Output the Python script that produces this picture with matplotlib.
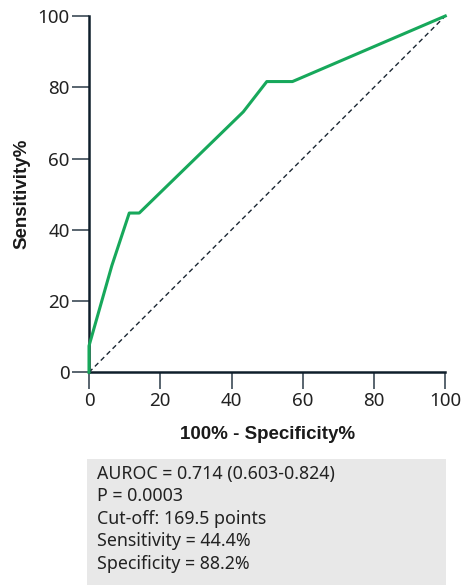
import matplotlib.pyplot as plt
from matplotlib.patches import Rectangle

# ROC curve points (100% - specificity, sensitivity)
fpr = [0, 0, 6.4, 11.3, 14.1, 43.3, 49.9, 57.1, 100]
tpr = [0, 7.4, 29.9, 44.7, 44.7, 73.1, 81.6, 81.6, 100]
ref_line = [0, 100]
ticks = [0, 20, 40, 60, 80, 100]
stats_lines = [
    "AUROC = 0.714 (0.603-0.824)",
    "P = 0.0003",
    "Cut-off: 169.5 points",
    "Sensitivity = 44.4%",
    "Specificity = 88.2%",
]

plt.rcParams['font.family'] = ['Noto Sans', 'DejaVu Sans']

W, H = 463, 585
fig = plt.figure(figsize=(W / 100, H / 100), dpi=100)
ax = fig.add_axes([89 / W, 1 - 372.3 / H, (445.3 - 89) / W, (372.3 - 16) / H])

ax.plot(ref_line, ref_line, color="#1b2733", lw=1.0, ls=(0, (3.5, 2.5)), clip_on=False, zorder=2)
ax.plot(fpr, tpr, color="#17a85b", lw=2.2, clip_on=False, zorder=3)

ax.set_xlim(0, 100)
ax.set_ylim(0, 100)
ax.set_xticks(ticks)
ax.set_yticks(ticks)
for s in ["top", "right"]:
    ax.spines[s].set_visible(False)
for s in ["left", "bottom"]:
    ax.spines[s].set_color("#0f1e2b")
    ax.spines[s].set_linewidth(1.8)
ax.tick_params(length=12, width=1.3, color="#4b5863", labelsize=13.5, labelcolor="#222222", pad=2)

bold = ['Liberation Sans', 'DejaVu Sans']
ax.set_xlabel("100% - Specificity%", fontsize=13.5, fontweight="bold", family=bold, labelpad=12,
              color="#1a1a1a")
ax.set_ylabel("Sensitivity%", fontsize=13.5, fontweight="bold", family=bold, labelpad=5,
              color="#1a1a1a")

# statistics box below the chart
box = Rectangle((87 / W, 0), (446 - 87) / W, (H - 459) / H, transform=fig.transFigure,
                facecolor="#e8e8e8", edgecolor="none")
fig.patches.append(box)
fig.text(97 / W, 1 - 465 / H, "\n".join(stats_lines), fontsize=12.8, va="top", ha="left",
         color="#222222", linespacing=1.32)

fig.savefig("out.png", dpi=100)
